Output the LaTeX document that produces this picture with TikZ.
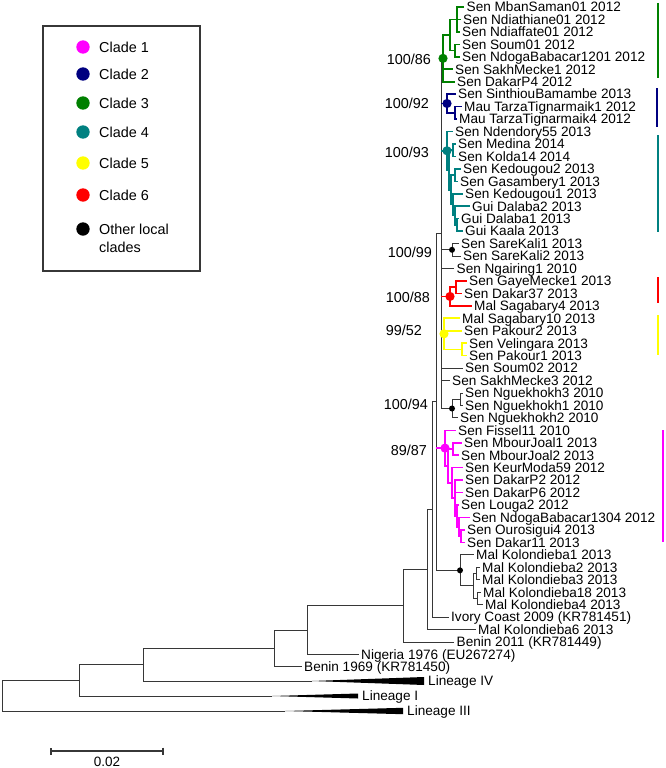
\documentclass[tikz,border=0pt]{standalone}
\usepackage{fontspec}
\setmainfont{Liberation Sans}
\usetikzlibrary{arrows.meta}

\definecolor{cladeone}{RGB}{255,0,255}
\definecolor{cladetwo}{RGB}{0,0,128}
\definecolor{cladethree}{RGB}{0,128,0}
\definecolor{cladefour}{RGB}{0,128,128}
\definecolor{cladefive}{RGB}{255,255,0}
\definecolor{cladesix}{RGB}{255,0,0}
\definecolor{treegray}{RGB}{55,55,55}

\tikzset{
    branch/.style={line width=0.9pt, draw=treegray},
    cladeline/.style={line width=1.6pt},
    leaf/.style={anchor=west, inner xsep=2.5pt, inner ysep=0pt, text height=9.7pt, text depth=0pt, font=\fontsize{13.6}{16}\selectfont},
    lineage/.style={leaf, inner xsep=4pt},
    support/.style={anchor=east, inner sep=0pt, font=\fontsize{14.4}{17}\selectfont},
    legendtext/.style={anchor=west, inner sep=0pt, align=left, font=\fontsize{14.4}{18}\selectfont},
    cladebar/.style={line width=2.4pt},
}

\begin{document}
\begin{tikzpicture}[x=1pt, y=-1pt]
        \useasboundingbox (0,0) rectangle (665,768);

        \foreach \n/\x/\t [count=\i] in {
            mban/464/{Sen MbanSaman01 2012}, ndiath/460.5/{Sen Ndiathiane01 2012},
            ndiaff/459.5/{Sen Ndiaffate01 2012}, soumA/459.5/{Sen Soum01 2012},
            ndogaA/459.5/{Sen NdogaBabacar1201 2012}, sakhA/452.5/{Sen SakhMecke1 2012},
            dakarpA/454.5/{Sen DakarP4 2012}, sinth/455.5/{Sen SinthiouBamambe 2013},
            tarzaA/461.5/{Mau TarzaTignarmaik1 2012}, tarzaB/456.5/{Mau TarzaTignarmaik4 2012},
            ndend/452.5/{Sen Ndendory55 2013}, medina/455.5/{Sen Medina 2014},
            kolda/455.5/{Sen Kolda14 2014}, kedB/460.5/{Sen Kedougou2 2013},
            gasam/457.5/{Sen Gasambery1 2013}, kedA/462.5/{Sen Kedougou1 2013},
            dalB/469.5/{Gui Dalaba2 2013}, dalA/458.5/{Gui Dalaba1 2013},
            kaala/462.5/{Gui Kaala 2013}, sareA/458.5/{Sen SareKali1 2013},
            sareB/460.5/{Sen SareKali2 2013}, ngair/454/{Sen Ngairing1 2010},
            gaye/466.5/{Sen GayeMecke1 2013}, dakarC/461.5/{Sen Dakar37 2013},
            sagA/471.5/{Mal Sagabary4 2013}, sagB/459.5/{Mal Sagabary10 2013},
            pakB/461.5/{Sen Pakour2 2013}, veli/466.5/{Sen Velingara 2013},
            pakA/466.5/{Sen Pakour1 2013}, soumB/462.5/{Sen Soum02 2012},
            sakhB/449.5/{Sen SakhMecke3 2012}, nguC/462.5/{Sen Nguekhokh3 2010},
            nguA/462.5/{Sen Nguekhokh1 2010}, nguB/457.5/{Sen Nguekhokh2 2010},
            fiss/455.5/{Sen Fissel11 2010}, mbourA/461.5/{Sen MbourJoal1 2013},
            mbourB/458.5/{Sen MbourJoal2 2013}, keur/462.5/{Sen KeurModa59 2012},
            dakarpB/462.5/{Sen DakarP2 2012}, dakarpC/462.5/{Sen DakarP6 2012},
            louga/458.5/{Sen Louga2 2012}, ndogaB/469.5/{Sen NdogaBabacar1304 2012},
            ouro/464.5/{Sen Ourosigui4 2013}, dakarD/464.5/{Sen Dakar11 2013},
            kolA/473.5/{Mal Kolondieba1 2013}, kolB/479.5/{Mal Kolondieba2 2013},
            kolC/479.5/{Mal Kolondieba3 2013}, kolD/480.5/{Mal Kolondieba18 2013},
            kolE/482.5/{Mal Kolondieba4 2013}, ivory/448.5/{Ivory Coast 2009 (KR781451)},
            kolF/475.5/{Mal Kolondieba6 2013}, beninC/454/{Benin 2011 (KR781449)},
            nigeria/358.5/{Nigeria 1976 (EU267274)}, beninA/301.5/{Benin 1969 (KR781450)}}
            \node[leaf] (\n) at (\x, {7+12.45*(\i-1)}) {\t};

        \node[lineage] (linIV) at (424,681) {Lineage IV};
        \node[lineage] (linI) at (358,696) {Lineage I};
        \node[lineage] (linIII) at (403,711) {Lineage III};
        \coordinate (apIV) at (312,681);
        \coordinate (apI) at (272,696);
        \coordinate (apIII) at (285,711);

        \coordinate (gr0) at (443,58.36);
        \coordinate (gr1) at (450,35.01);
        \coordinate (gr2) at (457,19.45);
        \coordinate (gr3) at (455,50.58);
        \coordinate (bl0) at (447,103.49);
        \coordinate (bl1) at (455,112.83);
        \coordinate (te0) at (447,150.76);
        \coordinate (teA) at (449,170.02);
        \coordinate (te1) at (453,150.18);
        \coordinate (te2) at (451,189.86);
        \coordinate (te3) at (455,175.08);
        \coordinate (te4) at (453,204.64);
        \coordinate (te5) at (455,215.54);
        \coordinate (te6) at (457,224.88);
        \coordinate (sk) at (452,249.78);
        \coordinate (rd0) at (450,296.46);
        \coordinate (rd1) at (456,287.13);
        \coordinate (ye0) at (444,333.8);
        \coordinate (ye1) at (462,349.38);
        \coordinate (ng0) at (452,408.5);
        \coordinate (ng1) at (460,399.18);
        \coordinate (mg0) at (445,448.1);
        \coordinate (mg1) at (453,448.98);
        \coordinate (mg2) at (448,465.9);
        \coordinate (mg3) at (452,482.8);
        \coordinate (mg4) at (455,498.0);
        \coordinate (mg5) at (457,515.9);
        \coordinate (mg6) at (459,526.79);
        \coordinate (mg7) at (461,536.13);
        \coordinate (ko0) at (460,570.36);
        \coordinate (ko1) at (473,585.93);
        \coordinate (ko2) at (476,573.48);
        \coordinate (ko3) at (477,598.38);
        \coordinate (nA) at (441,233.4);
        \coordinate (nB) at (436,401.9);
        \coordinate (nC) at (432,509.5);
        \coordinate (nD) at (427,569.5);
        \coordinate (nE) at (403,605.7);
        \coordinate (nF) at (307,630.05);
        \coordinate (nG) at (274,648.45);
        \coordinate (nH) at (143,664.7);
        \coordinate (nI) at (79,680.4);
        \coordinate (root) at (2,695.7);

        \foreach \a/\b in {gr0/nA, bl0/nA, te0/nA, sk/nA, ngair/nA, rd0/nA, ye0/nA, soumB/nA,
            sakhB/nA, ng0/nA, nA/nB, mg0/nB, ko0/nB, nB/nC, ivory/nC, nC/nD, kolF/nD, nD/nE,
            beninC/nE, nE/nF, nigeria/nF, nF/nG, beninA/nG, nG/nH, apIV/nH, nH/nI, apI/nI,
            nI/root, apIII/root, sareA/sk, sareB/sk, ng1/ng0, nguB/ng0, nguC/ng1, nguA/ng1,
            kolA/ko0, ko1/ko0, ko2/ko1, ko3/ko1, kolB/ko2, kolC/ko2, kolD/ko3, kolE/ko3}
            \draw[branch] (\a) -| (\b);

        \foreach \a/\b in {mban/gr2, ndiath/gr2, ndiaff/gr2, gr2/gr1, soumA/gr3, ndogaA/gr3,
            gr3/gr1, gr1/gr0, sakhA/gr0, dakarpA/gr0}
            \draw[cladeline, cladethree] (\a) -| (\b);
        \foreach \a/\b in {sinth/bl0, bl1/bl0, tarzaA/bl1, tarzaB/bl1}
            \draw[cladeline, cladetwo] (\a) -| (\b);
        \foreach \a/\b in {ndend/te0, teA/te0, te1/teA, medina/te1, kolda/te1, te2/teA, te3/te2,
            kedB/te3, gasam/te3, te4/te2, kedA/te4, te5/te4, dalB/te5, te6/te5, dalA/te6, kaala/te6}
            \draw[cladeline, cladefour] (\a) -| (\b);
        \foreach \a/\b in {rd1/rd0, sagA/rd0, gaye/rd1, dakarC/rd1}
            \draw[cladeline, cladesix] (\a) -| (\b);
        \foreach \a/\b in {sagB/ye0, pakB/ye0, ye1/ye0, veli/ye1, pakA/ye1}
            \draw[cladeline, cladefive] (\a) -| (\b);
        \foreach \a/\b in {fiss/mg0, mg2/mg0, mg1/mg2, mbourA/mg1, mbourB/mg1, mg3/mg2, keur/mg3,
            mg4/mg3, dakarpB/mg4, dakarpC/mg4, mg5/mg4, louga/mg5, mg6/mg5, ndogaB/mg6, mg7/mg6,
            ouro/mg7, dakarD/mg7}
            \draw[cladeline, cladeone] (\a) -| (\b);

        \foreach \c/\col in {gr0/cladethree, bl0/cladetwo, te0/cladefour, rd0/cladesix, ye0/cladefive}
            \draw[cladeline, \col] (\c) -- (nA |- \c);
        \draw[cladeline, cladeone] (mg0) -- (nB |- mg0);

        \fill (apIV) -- ([yshift=4pt]linIV.west) -- ([yshift=-4pt]linIV.west) -- cycle;
        \fill (apI) -- ([yshift=2.5pt]linI.west) -- ([yshift=-2.5pt]linI.west) -- cycle;
        \fill (apIII) -- ([yshift=3.2pt]linIII.west) -- ([yshift=-3.2pt]linIII.west) -- cycle;

        \foreach \c/\col in {gr0/cladethree, bl0/cladetwo, te0/cladefour, rd0/cladesix,
            ye0/cladefive, mg0/cladeone}
            \fill[\col] (\c) circle (4.6pt);
        \foreach \c in {sk, ng0, ko0}
            \fill (\c) circle (3pt);

        \node[support] (bsGreen) at (431,59) {100/86};
        \node[support] (bsBlue) at (429,103) {100/92};
        \node[support] (bsTeal) at (429,152) {100/93};
        \node[support] (bsSare) at (432,252) {100/99};
        \node[support] (bsRed) at (430,297) {100/88};
        \node[support] (bsYellow) at (422,330) {99/52};
        \node[support] (bsNgu) at (428,404) {100/94};
        \node[support] (bsMagenta) at (427,450) {89/87};

        \draw[cladebar, cladethree] (658,3) -- (658,78);
        \draw[cladebar, cladetwo] (657,88) -- (657,127);
        \draw[cladebar, cladefour] (658,135) -- (658,232);
        \draw[cladebar, cladesix] (658,277) -- (658,303);
        \draw[cladebar, cladefive] (658,315) -- (658,355);
        \draw[cladebar, cladeone] (663,430) -- (663,542);

        \draw[line width=1.6pt, treegray] (43,26) rectangle (200,271);
        \foreach \col/\t/\y in {cladeone/Clade 1/47, cladetwo/Clade 2/74, cladethree/Clade 3/103,
            cladefour/Clade 4/132, cladefive/Clade 5/163, cladesix/Clade 6/195} {
            \fill[\col] (83,\y) circle (6.7pt);
            \node[legendtext] (key\col) at (99,\y) {\t};
        }
        \fill (83,229) circle (6.7pt);
        \node[legendtext, anchor=north west] (keyother) at (99,223.5) {Other local\\clades};

        \coordinate (sbL) at (50,751);
        \coordinate (sbR) at (164,751);
        \draw[line width=1.6pt, treegray, {Bar[width=7pt]}-{Bar[width=7pt]}] (sbL) -- (sbR);
        \node[font=\fontsize{13.5}{16}\selectfont, inner sep=0pt] (sbText) at (107,762) {0.02};
    \end{tikzpicture}
\end{document}
